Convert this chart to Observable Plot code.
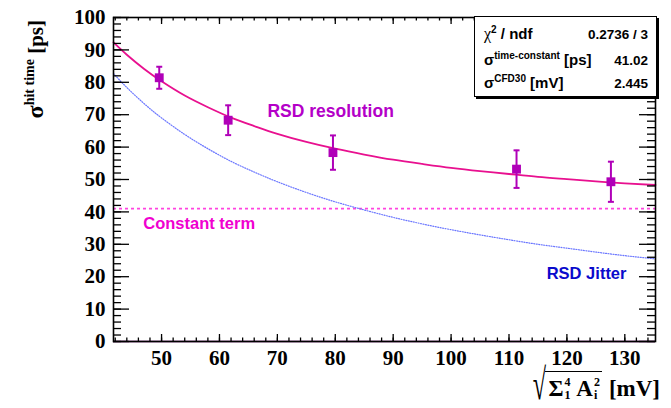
<!DOCTYPE html>
<html><head><meta charset="utf-8">
<script src="https://cdn.jsdelivr.net/npm/d3@7"></script>
<script src="https://cdn.jsdelivr.net/npm/@observablehq/plot@0.6"></script>
<style>
body{margin:0;background:#fff;}
#wrap{position:relative;width:671px;height:408px;overflow:hidden;}
#stats{position:absolute;left:474px;top:16px;width:181px;height:79px;border:1.5px solid #000;background:#fff;box-shadow:2px 2px 0 #000;font:bold 13.5px "Liberation Sans",Arial,sans-serif;color:#000;}
#stats .row{position:absolute;left:9px;right:8px;display:flex;justify-content:space-between;align-items:baseline;}
#stats .lab{font-size:15px;}
#stats sup{font-size:10px;vertical-align:6px;line-height:0;}
#stats .chi{font-family:"Liberation Serif",serif;font-weight:normal;font-size:16px;}
#xlab{position:absolute;right:11px;top:364px;height:42px;font:bold 23px "Liberation Serif",serif;color:#000;white-space:nowrap;display:flex;align-items:flex-end;}
#xlab .rad{font-weight:normal;font-size:44px;line-height:42px;height:42px;transform:scaleX(0.55);transform-origin:right center;display:inline-block;margin-left:-6px;}
#xlab .under{border-top:1.3px solid #000;padding:0 2px 0 3px;height:34px;display:flex;align-items:center;margin-left:-1px;}
#xlab .ss{display:inline-block;font-size:12px;margin-left:1px;}
#xlab .ss span{display:block;line-height:13px;height:13px;}
#xlab .unit{line-height:34px;margin-left:7px;}
</style></head><body><div id="wrap"></div>
<script>
// ---- data ----
const pointX = [49.6, 61.5, 79.6, 111.3, 127.6];
const pointY = [81.4, 68.3, 58.3, 53.2, 49.3];
const pointErr = [3.4, 4.6, 5.3, 5.8, 6.2];
const curveX = [41.7, 44, 47, 50, 54, 58, 62, 66, 70, 75, 80, 85, 90, 95, 100, 105, 110, 115, 120, 125, 130, 135.3];
const resolutionY = [92.3, 88.5, 84.1, 80.3, 75.9, 72.3, 69.1, 66.5, 64.1, 61.6, 59.5, 57.7, 56.1, 54.8, 53.6, 52.6, 51.7, 50.8, 50.1, 49.4, 48.8, 48.3];
const jitterY = [82.7, 78.4, 73.4, 69.0, 63.9, 59.5, 55.6, 52.3, 49.3, 46.0, 43.1, 40.6, 38.3, 36.3, 34.5, 32.9, 31.4, 30.0, 28.8, 27.6, 26.5, 25.5];
const constantTerm = 41.02;
const xDomain = [41.7, 135.3];
const yDomain = [0, 100];
const xTicks = [50, 60, 70, 80, 90, 100, 110, 120, 130];
const yTicks = [0, 10, 20, 30, 40, 50, 60, 70, 80, 90, 100];
const xMinor = d3.range(42, 135.3, 2);
const yMinor = d3.range(0, 100.1, 2);
const labelText = ["RSD resolution", "Constant term", "RSD Jitter"];
const labelX = [79.2, 56.5, 123.4];
const labelY = [70.9, 36.4, 20.8];
const labelSize = [17.5, 16.5, 16.5];
const labelColor = ["#b400c8", "#f000d0", "#0a0acc"];
const statLabels = ['<span class="chi">χ</span><sup>2</sup> / ndf', 'σ<sup>time-constant</sup> [ps]', 'σ<sup>CFD30</sup> [mV]'];
const statValues = ["0.2736 / 3", "41.02", "2.445"];

// ---- build ----
const W = 671, H = 408, mL = 113, mR = 16, mT = 17, mB = 67;
const fw = W - mL - mR, fh = H - mT - mB;
const points = pointX.map((x, i) => ({x, y: pointY[i], e: pointErr[i]}));
const caps = points.flatMap(p => [{x: p.x, y: p.y + p.e}, {x: p.x, y: p.y - p.e}]);
const resData = curveX.map((x, i) => ({x, y: resolutionY[i]}));
const jitData = curveX.map((x, i) => ({x, y: jitterY[i]}));
const labels = labelText.map((t, i) => ({t, x: labelX[i], y: labelY[i], c: labelColor[i], s: labelSize[i]}));
const capSymbol = {draw(ctx, size) { const r = Math.sqrt(size / Math.PI); ctx.moveTo(-r, 0); ctx.lineTo(r, 0); }};
const tickFont = {fontSize: 21, fontFamily: "Liberation Serif", fontWeight: "bold"};

const plot = Plot.plot({
  width: W, height: H, marginLeft: mL, marginRight: mR, marginTop: mT, marginBottom: mB,
  x: {domain: xDomain}, y: {domain: yDomain},
  style: {background: "#fff", color: "#000"},
  marks: [
    Plot.ruleY([constantTerm], {stroke: "#ff44e0", strokeWidth: 1.6, strokeDasharray: "3,3"}),
    Plot.line(jitData, {x: "x", y: "y", stroke: "#6a76ff", strokeWidth: 1.2, strokeDasharray: "1,1.5", curve: "natural"}),
    Plot.line(resData, {x: "x", y: "y", stroke: "#e8108f", strokeWidth: 1.8, curve: "natural"}),
    Plot.ruleX(points, {x: "x", y1: d => d.y - d.e, y2: d => d.y + d.e, stroke: "#b000b8", strokeWidth: 2}),
    Plot.dot(caps, {x: "x", y: "y", symbol: capSymbol, r: 3, stroke: "#b000b8", strokeWidth: 2, fill: "none"}),
    Plot.dot(points, {x: "x", y: "y", symbol: "square", r: 5, fill: "#b000b8", stroke: "none"}),
    Plot.ruleY([0], {stroke: "#7a007a", strokeWidth: 1.5}),
    // inward ticks on all four sides
    Plot.tickY(yTicks, {y: d => d, insetRight: fw - 16, stroke: "#000", strokeWidth: 1.3}),
    Plot.tickY(yMinor, {y: d => d, insetRight: fw - 8, stroke: "#000", strokeWidth: 1.3}),
    Plot.tickY(yTicks, {y: d => d, insetLeft: fw - 16, stroke: "#000", strokeWidth: 1.3}),
    Plot.tickY(yMinor, {y: d => d, insetLeft: fw - 8, stroke: "#000", strokeWidth: 1.3}),
    Plot.tickX(xTicks, {x: d => d, insetTop: fh - 7, stroke: "#000", strokeWidth: 1.3}),
    Plot.tickX(xMinor, {x: d => d, insetTop: fh - 3.5, stroke: "#000", strokeWidth: 1.3}),
    Plot.tickX(xTicks, {x: d => d, insetBottom: fh - 7, stroke: "#000", strokeWidth: 1.3}),
    Plot.tickX(xMinor, {x: d => d, insetBottom: fh - 3.5, stroke: "#000", strokeWidth: 1.3}),
    Plot.frame({stroke: "#000", strokeWidth: 1.6}),
    Plot.axisX({ticks: xTicks, tickSize: 0, tickPadding: 9, label: null, ...tickFont}),
    Plot.axisY({ticks: yTicks, tickSize: 0, tickPadding: 8, label: null, ...tickFont}),
    Plot.text(labels, {x: "x", y: "y", text: "t", fill: "c", fontSize: "s", fontWeight: "bold", fontFamily: "Liberation Sans"})
  ]
});
const wrap = document.getElementById("wrap");
wrap.appendChild(plot);

// y-axis title
const yt = d3.select(plot).append("text")
  .attr("transform", "translate(43,20) rotate(-90)")
  .attr("text-anchor", "end")
  .attr("font-family", "Liberation Serif").attr("font-weight", "bold").attr("fill", "#000");
yt.append("tspan").attr("font-size", 24).text("σ");
yt.append("tspan").attr("font-size", 14).attr("dy", -9).text("hit time");
yt.append("tspan").attr("font-size", 21).attr("dy", 9).text(" [ps]");

// stats box
const stats = document.createElement("div");
stats.id = "stats";
stats.innerHTML = statLabels.map((l, i) =>
  `<div class="row" style="top:${[8, 34, 57][i]}px"><span class="lab">${l}</span><span>${statValues[i]}</span></div>`).join("");
wrap.appendChild(stats);

// x-axis title
const xl = document.createElement("div");
xl.id = "xlab";
xl.innerHTML = '<span class="rad">√</span><span class="under">Σ<span class="ss"><span>4</span><span>1</span></span>&nbsp;A<span class="ss"><span>2</span><span>i</span></span></span><span class="unit">[mV]</span>';
wrap.appendChild(xl);
</script>
</body></html>
